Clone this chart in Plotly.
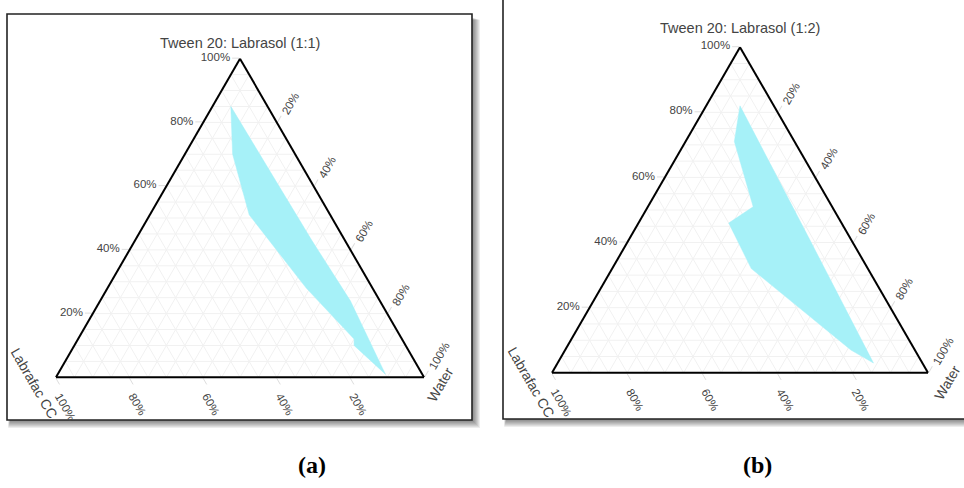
import plotly.graph_objects as go

# Phase-region boundaries (percent): Tween 20/Labrasol mix, Labrafac CC, Water
region1_smix = [85, 70, 51, 28, 12, 10, 1, 24, 43, 85]
region1_oil = [10, 17, 22, 18, 13, 14, 10, 8, 9, 10]
region1_water = [5, 13, 27, 54, 75, 76, 89, 68, 48, 5]

region2_smix = [82, 71, 51, 46, 32, 7, 3, 41, 82]
region2_oil = [9, 16, 21, 30, 31, 17, 13, 11, 9]
region2_water = [9, 13, 28, 24, 37, 76, 84, 48, 9]

titles = ["Tween 20: Labrasol (1:1)", "Tween 20: Labrasol (1:2)"]
oil_title = "Labrafac CC"
water_title = "Water"
panel_labels = ["(a)", "(b)"]
tick_values = [20, 40, 60, 80, 100]
grid_levels = list(range(5, 100, 5))

W, H = 964, 488
YX = 3 ** 0.5 / 2

FILL = "#a6f1f8"
GRID = "#f1f1f1"
TXT = "#444444"


def px(x):
    return x / W


def py(y):
    return 1 - y / H


def grid_traces(sub):
    traces = []
    for which in ("a", "b", "c"):
        a, b, c = [], [], []
        for v in grid_levels:
            if which == "a":
                a += [v, v, None]; b += [100 - v, 0, None]; c += [0, 100 - v, None]
            elif which == "b":
                b += [v, v, None]; a += [100 - v, 0, None]; c += [0, 100 - v, None]
            else:
                c += [v, v, None]; a += [100 - v, 0, None]; b += [0, 100 - v, None]
        traces.append(go.Scatterternary(
            a=a, b=b, c=c, mode="lines", subplot=sub,
            line=dict(color=GRID, width=1), hoverinfo="skip",
            showlegend=False, connectgaps=False))
    return traces


fig = go.Figure()

regions = [
    (region1_smix, region1_oil, region1_water),
    (region2_smix, region2_oil, region2_water),
]
subplots = ["ternary", "ternary2"]

for sub, (ra, rb, rc) in zip(subplots, regions):
    for t in grid_traces(sub):
        fig.add_trace(t)
    fig.add_trace(go.Scatterternary(
        a=ra, b=rb, c=rc, mode="lines", fill="toself", subplot=sub,
        fillcolor=FILL, line=dict(color=FILL, width=0.5),
        showlegend=False, hoverinfo="skip"))


def axis(angle):
    return dict(
        title=dict(text=""),
        tickvals=tick_values, ticktext=[f"{v}%" for v in tick_values],
        tickfont=dict(size=11.5, color=TXT), tickangle=angle,
        ticks="outside", ticklen=7, tickcolor="#dddddd",
        showline=True, linecolor="black", linewidth=2,
        showgrid=False, min=0,
    )


def ternary_layout(cx, cy, w):
    h = w * YX
    return dict(
        sum=100, bgcolor="white",
        domain=dict(x=[px(cx - w / 2), px(cx + w / 2)],
                    y=[py(cy + h / 2), py(cy - h / 2)]),
        aaxis=axis(0),
        baxis=axis(60),
        caxis=axis(-60),
    )


# Framed panels with a soft drop shadow
boxes = [(7, 14, 472, 420), (503, -3, 975, 419)]
shapes = []
for (x0, y0, x1, y1) in boxes:
    for k in range(7):
        shapes.append(dict(
            type="rect", xref="paper", yref="paper", layer="below",
            x0=px(x0 + 3 - k * 0.3), x1=px(x1 + 2 + k),
            y0=py(y1 + 2 + k), y1=py(y0 + 4 + k * 0.3),
            fillcolor="rgba(0,0,0,0.07)", line=dict(width=0)))
for (x0, y0, x1, y1) in boxes:
    shapes.append(dict(
        type="rect", xref="paper", yref="paper", layer="below",
        x0=px(x0), x1=px(x1), y0=py(y1), y1=py(y0),
        fillcolor="white", line=dict(color="#222222", width=1.6)))


def label(text, x, y, angle=0, size=14, **kw):
    return dict(text=text, x=px(x), y=py(y), xref="paper", yref="paper",
                showarrow=False, xanchor="center", yanchor="middle",
                textangle=angle, font=dict(size=size, color=kw.get("color", TXT),
                                           family=kw.get("family", None)))


serif = "Liberation Serif, Times New Roman, serif"
annotations = [
    # corner titles for both diagrams
    label(titles[0], 240, 43, size=14.5),
    label(oil_title, 34, 383, angle=60),
    label(water_title, 440, 385, angle=-60),
    label(titles[1], 740, 28, size=14.5),
    label(oil_title, 531, 382, angle=60),
    label(water_title, 947, 383, angle=-60),
    # panel captions
    label(f"<b>{panel_labels[0]}</b>", 312, 465, size=24, color="black", family=serif),
    label(f"<b>{panel_labels[1]}</b>", 757, 465, size=24, color="black", family=serif),
]

fig.update_layout(
    width=W, height=H,
    margin=dict(l=0, r=0, t=0, b=0),
    paper_bgcolor="white",
    font=dict(family="Liberation Sans, Arial, sans-serif", color=TXT),
    ternary=ternary_layout(240, 218, 368),
    ternary2=ternary_layout(740, 210, 376),
    shapes=shapes,
    annotations=annotations,
    showlegend=False,
)

fig.write_html("out.html")
